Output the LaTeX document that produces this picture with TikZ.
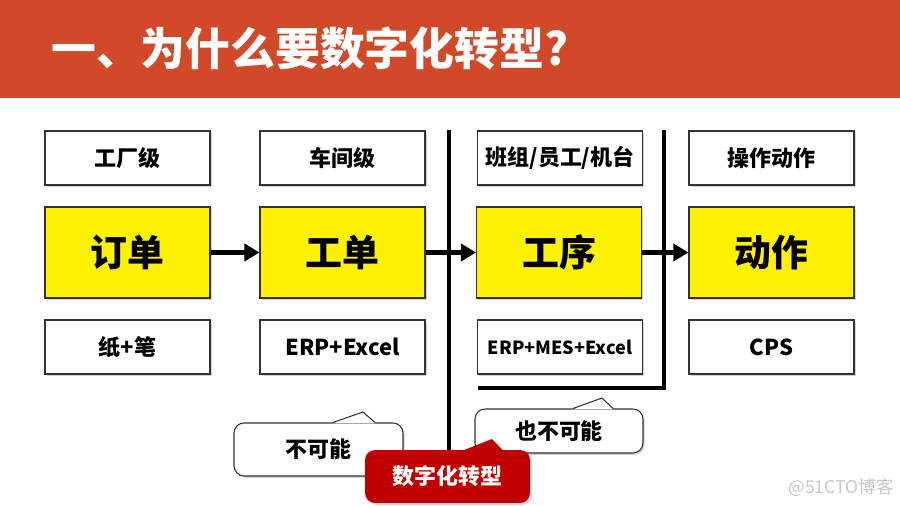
\documentclass[tikz,border=0pt]{standalone}
\usepackage{fontspec}
\setmainfont{Noto Sans CJK SC}
\usetikzlibrary{arrows.meta,shadows,calc}

\definecolor{titlered}{RGB}{209,73,40}
\definecolor{calloutred}{RGB}{192,0,0}

\begin{document}
\begin{tikzpicture}[x=0.02cm, y=-0.02cm,
    level/.style={draw=black!80, fill=white, line width=0.6pt, minimum width=3.3cm, minimum height=1.08cm, inner sep=0pt,
      font=\bfseries\fontsize{12.5}{14}\selectfont, drop shadow={shadow xshift=1pt, shadow yshift=-1pt, opacity=0.35}},
    stage/.style={level, fill=yellow, minimum height=1.82cm, font=\bfseries\fontsize{21}{24}\selectfont},
    flow/.style={line width=2.8pt, -{Triangle[length=3mm, width=3.4mm]}},
    wall/.style={line width=2.8pt, line join=miter},
    callout/.style={draw=black!80, fill=white, line width=0.6pt, rounded corners=2mm, inner sep=0pt,
      font=\bfseries\fontsize{12.5}{14}\selectfont, drop shadow={shadow xshift=1pt, shadow yshift=-1pt, opacity=0.35}}]
    \useasboundingbox (0,0) rectangle (900,506);

    % Title
    \fill[titlered] (0,0) rectangle (900,98);
    \node[anchor=west, text=white, font=\bfseries\fontsize{25.5}{30}\selectfont] (title) at (45,48) {一、为什么要数字化转型?};

    % Walls
    \coordinate (wa1) at (449,130);
    \coordinate (wa2) at (449,480);
    \coordinate (wb1) at (664,130);
    \coordinate (wb2) at (664,388);
    \coordinate (wb3) at (478,388);
    \draw[wall] (wa1) -- (wa2);
    \draw[wall] (wb1) -- (wb2) -- (wb3);

    % Nodes
    \node[level] at (127.5,158) (lvfac) {工厂级};
    \node[level] at (342.5,158) (lvshop) {车间级};
    \node[level] at (560,158) (lvteam) {班组/员工/机台};
    \node[level] at (771.5,158) (lvop) {操作动作};

    \node[stage] at (127.5,252.5) (ord) {订单};
    \node[stage] at (342.5,252.5) (wo) {工单};
    \node[stage] at (559,252.5) (proc) {工序};
    \node[stage] at (771.5,252.5) (act) {动作};

    \node[level] at (127.5,347) (toolpen) {纸+笔};
    \node[level] at (342.5,347) (toolerp) {ERP+Excel};
    \node[level, font=\bfseries\fontsize{10.3}{12}\selectfont] at (560,347) (toolmes) {ERP+MES+Excel};
    \node[level] at (771.5,347) (toolcps) {CPS};

    \draw[flow] (ord) -- (wo);
    \draw[flow] (wo) -- (proc);
    \draw[flow] (proc) -- (act);

    % Callouts
    \node[callout, minimum width=3.38cm, minimum height=1.06cm] at (318.5,449.5) (nope) {不可能};
    \coordinate (nopetip) at (363,412);
    \fill[white] ($(nope.north)+(14.5,1)$) -- (nopetip) -- ($(nope.north)+(56.5,1)$) -- cycle;
    \draw[line width=0.6pt, draw=black!80] ($(nope.north)+(14.5,0)$) -- (nopetip) -- ($(nope.north)+(56.5,0)$);

    \node[callout, minimum width=3.36cm, minimum height=0.88cm] at (559,431) (nopetoo) {也不可能};
    \coordinate (nopetootip) at (602,398);
    \fill[white] ($(nopetoo.north)+(14,1)$) -- (nopetootip) -- ($(nopetoo.north)+(54,1)$) -- cycle;
    \draw[line width=0.6pt, draw=black!80] ($(nopetoo.north)+(14,0)$) -- (nopetootip) -- ($(nopetoo.north)+(54,0)$);

    \node[callout, draw=none, fill=calloutred, text=white, minimum width=3.3cm, minimum height=1.06cm] at (447.5,476.5) (digi) {数字化转型};
    \coordinate (digitip) at (492,439);
    \fill[calloutred] ($(digi.north)+(15.5,1)$) -- (digitip) -- ($(digi.north)+(55.5,1)$) -- cycle;

    % Watermark
    \node[text=black!22, font=\fontsize{10}{12}\selectfont] at (841,488) (mark) {@51CTO博客};
\end{tikzpicture}
\end{document}
